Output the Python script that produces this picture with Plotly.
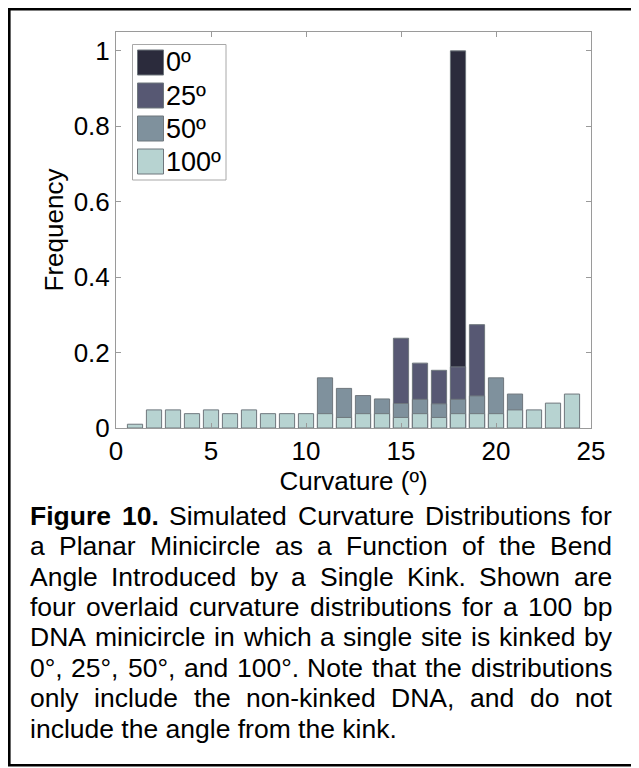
import plotly.graph_objects as go

# ---------------- data ----------------
curvature_bins = [1, 2, 3, 4, 5, 6, 7, 8, 9, 10, 11, 12,
                  13, 14, 15, 16, 17, 18, 19, 20, 21, 22, 23, 24]
series_labels = ["0º", "25º", "50º", "100º"]
series_colors = ["#2b2b3c", "#575873", "#7f919d", "#b7d3d1"]

freq_0 = [0, 0, 0, 0, 0, 0, 0, 0, 0, 0, 0, 0,
          0, 0, 0, 0, 0, 1.0, 0, 0, 0, 0, 0, 0]
freq_25 = [0, 0, 0, 0, 0, 0, 0, 0, 0, 0, 0, 0,
           0, 0, 0.238, 0.172, 0.153, 0.162, 0.274, 0, 0, 0, 0, 0]
freq_50 = [0, 0, 0, 0, 0, 0, 0, 0, 0, 0, 0.133, 0.105,
           0.086, 0.077, 0.065, 0.076, 0.064, 0.076, 0.085, 0.133, 0.090, 0, 0, 0]
freq_100 = [0.010, 0.048, 0.048, 0.038, 0.048, 0.038, 0.048, 0.038, 0.038, 0.038, 0.038, 0.028,
            0.038, 0.038, 0.028, 0.038, 0.028, 0.038, 0.038, 0.038, 0.048, 0.048, 0.066, 0.090]
series_values = [freq_0, freq_25, freq_50, freq_100]

x_tick_vals = [0, 5, 10, 15, 20, 25]
x_tick_text = ["0", "5", "10", "15", "20", "25"]
y_tick_vals = [0, 0.2, 0.4, 0.6, 0.8, 1]
y_tick_text = ["0", "0.2", "0.4", "0.6", "0.8", "1"]
x_title = "Curvature (º)"
y_title = "Frequency"

caption_lines = [
    "Figure 10. Simulated Curvature Distributions for",
    "a Planar Minicircle as a Function of the Bend",
    "Angle Introduced by a Single Kink. Shown are",
    "four overlaid curvature distributions for a 100 bp",
    "DNA minicircle in which a single site is kinked by",
    "0°, 25°, 50°, and 100°. Note that the distributions",
    "only include the non-kinked DNA, and do not",
    "include the angle from the kink.",
]
caption_bold_words = ["Figure", "10."]

# ---------------- layout geometry ----------------
# The page body adds an 8 px offset, so the figure is 8 px smaller and every
# position below is given in window pixels and converted.
OFF = 8
FIG_W, FIG_H = 639 - OFF, 768 - OFF
ML, MR, MT, MB = 116 - OFF, 48, 32 - OFF, 340
PW, PH = FIG_W - ML - MR, FIG_H - MT - MB
FONT = "Liberation Sans, Arial, Helvetica, sans-serif"
AXIS_GRAY = "#9a9a9a"
EDGE = "#6f777d"


def px(x):
    return (x - OFF - ML) / PW


def py(y):
    return (FIG_H - MB - (y - OFF)) / PH


# Arial / Liberation Sans advance widths (1/1000 em)
AW = {' ': 278, '(': 333, ')': 333, ',': 278, '-': 333, '.': 278, '°': 400, 'º': 365}
for d in "0123456789":
    AW[d] = 556
AW.update({'A': 667, 'B': 667, 'C': 722, 'D': 722, 'E': 667, 'F': 611, 'G': 778, 'H': 722,
           'I': 278, 'J': 500, 'K': 667, 'L': 556, 'M': 833, 'N': 722, 'O': 778, 'P': 667,
           'Q': 778, 'R': 722, 'S': 667, 'T': 611, 'U': 722, 'V': 667, 'W': 944, 'X': 667,
           'Y': 667, 'Z': 611,
           'a': 556, 'b': 556, 'c': 500, 'd': 556, 'e': 556, 'f': 278, 'g': 556, 'h': 556,
           'i': 222, 'j': 222, 'k': 500, 'l': 222, 'm': 833, 'n': 556, 'o': 556, 'p': 556,
           'q': 556, 'r': 333, 's': 500, 't': 278, 'u': 556, 'v': 500, 'w': 722, 'x': 500,
           'y': 500, 'z': 500})
AWB = dict(AW)
AWB.update({'F': 611, 'i': 278, 'g': 611, 'u': 611, 'r': 389, 'e': 556})


def tw(s, size, bold=False):
    tab = AWB if bold else AW
    return sum(tab.get(c, 556) for c in s) * size / 1000.0


# ---------------- figure ----------------
fig = go.Figure()
for name, color, vals in zip(series_labels, series_colors, series_values):
    fig.add_trace(go.Bar(
        x=curvature_bins, y=vals, name=name, width=0.8,
        marker=dict(color=color, line=dict(color=EDGE, width=1)),
        showlegend=False,
    ))

annotations = []
shapes = []

# legend (drawn manually to match the large square swatches)
shapes.append(dict(type="rect", xref="paper", yref="paper",
                   x0=px(132.5), x1=px(226), y0=py(44.5), y1=py(180),
                   line=dict(color="#a8a8a8", width=1), fillcolor="white", layer="above"))
LEG_SIZE = 27
for i, (name, color) in enumerate(zip(series_labels, series_colors)):
    top = 50 + 33 * i
    shapes.append(dict(type="rect", xref="paper", yref="paper",
                       x0=px(137.5), x1=px(163.5), y0=py(top), y1=py(top + 25),
                       line=dict(color=EDGE, width=1), fillcolor=color, layer="above"))
    annotations.append(dict(text=name, xref="paper", yref="paper",
                            x=px(165.5), y=py(top + 12.5), xanchor="left", yanchor="middle",
                            showarrow=False, borderpad=0, borderwidth=0,
                            font=dict(family=FONT, size=LEG_SIZE, color="black")))

# caption, justified word by word
CAP_SIZE = 26.5
CAP_LEFT, CAP_RIGHT = 30, 612
for k, line in enumerate(caption_lines):
    baseline = 525 + 30.4 * k
    yc = py(baseline - 0.3465 * CAP_SIZE)
    words = line.split(" ")
    bold_flags = [(k == 0 and w in caption_bold_words) for w in words]
    if k == len(caption_lines) - 1:
        annotations.append(dict(text=line, xref="paper", yref="paper",
                                x=px(CAP_LEFT), y=yc, xanchor="left", yanchor="middle",
                                showarrow=False, borderpad=0, borderwidth=0,
                                font=dict(family=FONT, size=CAP_SIZE, color="black")))
        continue
    widths = [tw(w, CAP_SIZE, b) for w, b in zip(words, bold_flags)]
    gap = (CAP_RIGHT - CAP_LEFT - sum(widths)) / (len(words) - 1)
    xcur = CAP_LEFT
    for w, b, wd in zip(words, bold_flags, widths):
        annotations.append(dict(text=(f"<b>{w}</b>" if b else w), xref="paper", yref="paper",
                                x=px(xcur), y=yc, xanchor="left", yanchor="middle",
                                showarrow=False, borderpad=0, borderwidth=0,
                                font=dict(family=FONT, size=CAP_SIZE, color="black")))
        xcur += wd + gap

# outer frame
shapes.append(dict(type="rect", xref="paper", yref="paper",
                   x0=px(9.3), x1=px(635.8), y0=py(9.3), y1=py(765.3),
                   line=dict(color="black", width=2.6), fillcolor="rgba(0,0,0,0)", layer="above"))

axis_common = dict(showline=True, linecolor=AXIS_GRAY, linewidth=1, mirror="ticks",
                   ticks="inside", ticklen=5, tickcolor=AXIS_GRAY, tickwidth=1,
                   showgrid=False, zeroline=False,
                   tickfont=dict(family=FONT, size=26, color="black"))

fig.update_layout(
    width=FIG_W, height=FIG_H,
    margin=dict(l=ML, r=MR, t=MT, b=MB, autoexpand=False),
    paper_bgcolor="white", plot_bgcolor="white",
    barmode="overlay", bargap=0.2,
    font=dict(family=FONT, color="black"),
    xaxis=dict(range=[0, 25], tickvals=x_tick_vals, ticktext=x_tick_text,
               title=dict(text=x_title, font=dict(family=FONT, size=26), standoff=2),
               **axis_common),
    yaxis=dict(range=[0, 1.05], tickvals=y_tick_vals, ticktext=y_tick_text,
               title=dict(text=y_title, font=dict(family=FONT, size=26), standoff=2),
               **axis_common),
    annotations=annotations,
    shapes=shapes,
)

fig.write_html("out.html")
